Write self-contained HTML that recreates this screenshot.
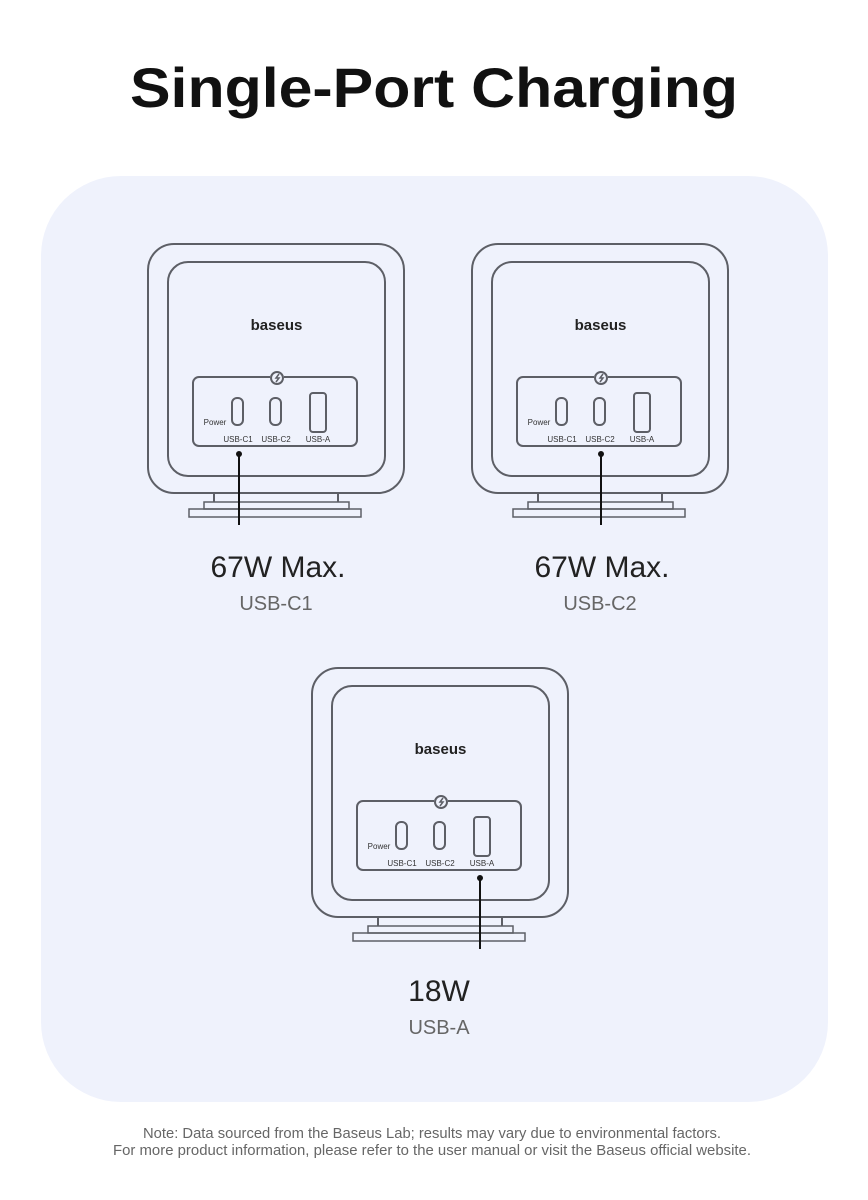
<!DOCTYPE html>
<html><head><meta charset="utf-8"><style>
html,body{margin:0;padding:0;background:#fff;}
svg{display:block;font-family:"Liberation Sans",sans-serif;}
</style></head><body>
<svg width="868" height="1200" viewBox="0 0 868 1200" xmlns="http://www.w3.org/2000/svg">
<rect width="868" height="1200" fill="#fff"/>
<text x="434" y="107" text-anchor="middle" font-size="56" font-weight="bold" fill="#111" textLength="608" lengthAdjust="spacingAndGlyphs">Single-Port Charging</text>
<rect x="41" y="176" width="787" height="926" rx="80" fill="#eff2fc"/>

<g transform="translate(0,0)">
<g fill="none" stroke="#5d5f66" stroke-width="2">
<rect x="148" y="244" width="256" height="249" rx="26"/>
<rect x="168" y="262" width="217" height="214" rx="20"/>
<path d="M270 377 H199 a6 6 0 0 0 -6 6 V440 a6 6 0 0 0 6 6 H351 a6 6 0 0 0 6 -6 V383 a6 6 0 0 0 -6 -6 H284"/>
<circle cx="277" cy="378" r="6"/>
<rect x="232" y="398" width="11" height="27" rx="5"/>
<rect x="270" y="398" width="11" height="27" rx="5"/>
<rect x="310" y="393" width="16" height="39" rx="3"/>
<path d="M214 493 V502 M338 493 V502"/>
<rect x="204" y="502" width="145" height="7" stroke-width="1.5"/>
<rect x="189" y="509" width="172" height="8" stroke-width="1.5"/>
</g>
<path d="M279 374 l-3 4 h3 l-3 4" stroke="#5d5f66" stroke-width="1.5" fill="none"/>
<text x="276.5" y="330" text-anchor="middle" font-size="15" font-weight="bold" fill="#222">baseus</text>
<g font-size="8" fill="#333" text-anchor="middle"><text x="215" y="425">Power</text><text x="238" y="442">USB-C1</text><text x="276" y="442">USB-C2</text><text x="318" y="442">USB-A</text></g>
<line x1="239" y1="454" x2="239" y2="525" stroke="#111" stroke-width="2"/>
<circle cx="239" cy="454" r="3" fill="#111"/>
<text x="278" y="577" text-anchor="middle" font-size="30" fill="#222">67W Max.</text>
<text x="276" y="610" text-anchor="middle" font-size="20" fill="#666">USB-C1</text>
</g>

<g transform="translate(324,0)">
<g fill="none" stroke="#5d5f66" stroke-width="2">
<rect x="148" y="244" width="256" height="249" rx="26"/>
<rect x="168" y="262" width="217" height="214" rx="20"/>
<path d="M270 377 H199 a6 6 0 0 0 -6 6 V440 a6 6 0 0 0 6 6 H351 a6 6 0 0 0 6 -6 V383 a6 6 0 0 0 -6 -6 H284"/>
<circle cx="277" cy="378" r="6"/>
<rect x="232" y="398" width="11" height="27" rx="5"/>
<rect x="270" y="398" width="11" height="27" rx="5"/>
<rect x="310" y="393" width="16" height="39" rx="3"/>
<path d="M214 493 V502 M338 493 V502"/>
<rect x="204" y="502" width="145" height="7" stroke-width="1.5"/>
<rect x="189" y="509" width="172" height="8" stroke-width="1.5"/>
</g>
<path d="M279 374 l-3 4 h3 l-3 4" stroke="#5d5f66" stroke-width="1.5" fill="none"/>
<text x="276.5" y="330" text-anchor="middle" font-size="15" font-weight="bold" fill="#222">baseus</text>
<g font-size="8" fill="#333" text-anchor="middle"><text x="215" y="425">Power</text><text x="238" y="442">USB-C1</text><text x="276" y="442">USB-C2</text><text x="318" y="442">USB-A</text></g>
<line x1="277" y1="454" x2="277" y2="525" stroke="#111" stroke-width="2"/>
<circle cx="277" cy="454" r="3" fill="#111"/>
<text x="278" y="577" text-anchor="middle" font-size="30" fill="#222">67W Max.</text>
<text x="276" y="610" text-anchor="middle" font-size="20" fill="#666">USB-C2</text>
</g>

<g transform="translate(164,424)">
<g fill="none" stroke="#5d5f66" stroke-width="2">
<rect x="148" y="244" width="256" height="249" rx="26"/>
<rect x="168" y="262" width="217" height="214" rx="20"/>
<path d="M270 377 H199 a6 6 0 0 0 -6 6 V440 a6 6 0 0 0 6 6 H351 a6 6 0 0 0 6 -6 V383 a6 6 0 0 0 -6 -6 H284"/>
<circle cx="277" cy="378" r="6"/>
<rect x="232" y="398" width="11" height="27" rx="5"/>
<rect x="270" y="398" width="11" height="27" rx="5"/>
<rect x="310" y="393" width="16" height="39" rx="3"/>
<path d="M214 493 V502 M338 493 V502"/>
<rect x="204" y="502" width="145" height="7" stroke-width="1.5"/>
<rect x="189" y="509" width="172" height="8" stroke-width="1.5"/>
</g>
<path d="M279 374 l-3 4 h3 l-3 4" stroke="#5d5f66" stroke-width="1.5" fill="none"/>
<text x="276.5" y="330" text-anchor="middle" font-size="15" font-weight="bold" fill="#222">baseus</text>
<g font-size="8" fill="#333" text-anchor="middle"><text x="215" y="425">Power</text><text x="238" y="442">USB-C1</text><text x="276" y="442">USB-C2</text><text x="318" y="442">USB-A</text></g>
<line x1="316" y1="454" x2="316" y2="525" stroke="#111" stroke-width="2"/>
<circle cx="316" cy="454" r="3" fill="#111"/>
<text x="275" y="577" text-anchor="middle" font-size="30" fill="#222">18W</text>
<text x="275" y="610" text-anchor="middle" font-size="20" fill="#666">USB-A</text>
</g>

<g font-size="14.5" fill="#666" text-anchor="middle">
<text x="432" y="1138" textLength="578" lengthAdjust="spacingAndGlyphs">Note: Data sourced from the Baseus Lab; results may vary due to environmental factors.</text>
<text x="432" y="1155" textLength="638" lengthAdjust="spacingAndGlyphs">For more product information, please refer to the user manual or visit the Baseus official website.</text>
</g>
</svg>
</body></html>
